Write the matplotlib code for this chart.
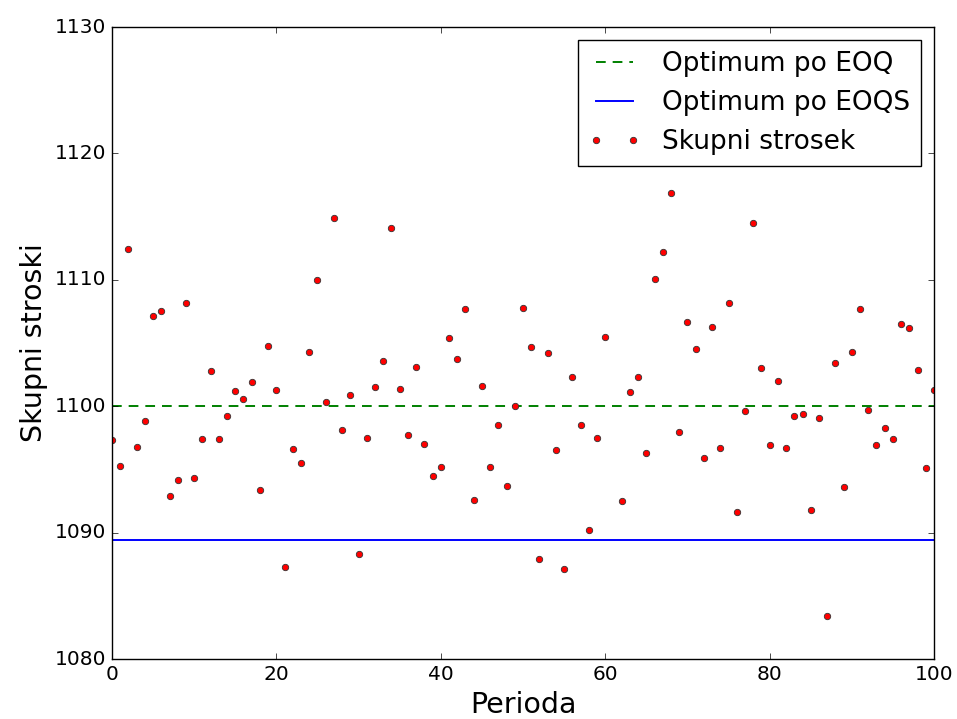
import numpy as np
import matplotlib
matplotlib.use('Agg')
import matplotlib.pyplot as plt

# total cost per period (period 61 has no visible point)
periods = np.arange(0, 101)
total_cost = [
    1097.3, 1095.3, 1112.4, 1096.8, 1098.8, 1107.1, 1107.5, 1092.9, 1094.2, 1108.2,
    1094.3, 1097.4, 1102.8, 1097.4, 1099.2, 1101.2, 1100.6, 1101.9, 1093.4, 1104.8,
    1101.3, 1087.3, 1096.6, 1095.5, 1104.3, 1110.0, 1100.3, 1114.9, 1098.1, 1100.9,
    1088.3, 1097.5, 1101.5, 1103.6, 1114.1, 1101.4, 1097.7, 1103.1, 1097.0, 1094.5,
    1095.2, 1105.4, 1103.7, 1107.7, 1092.6, 1101.6, 1095.2, 1098.5, 1093.7, 1100.0,
    1107.8, 1104.7, 1087.9, 1104.2, 1096.5, 1087.1, 1102.3, 1098.5, 1090.2, 1097.5,
    1105.5, np.nan, 1092.5, 1101.1, 1102.3, 1096.3, 1110.1, 1112.2, 1116.9, 1098.0,
    1106.7, 1104.5, 1095.9, 1106.3, 1096.7, 1108.2, 1091.6, 1099.6, 1114.5, 1103.0,
    1096.9, 1102.0, 1096.7, 1099.2, 1099.4, 1091.8, 1099.1, 1083.4, 1103.4, 1093.6,
    1104.3, 1107.7, 1099.7, 1096.9, 1098.3, 1097.4, 1106.5, 1106.2, 1102.9, 1095.1,
    1101.3,
]
optimum_eoq = 1100.0
optimum_eoqs = 1089.4

plt.style.use('classic')
fig = plt.figure(figsize=(9.57, 7.19), dpi=100, facecolor='white')
ax = fig.add_axes([0.117, 0.0834, 0.859, 0.879])

ax.plot([0, 100], [optimum_eoq, optimum_eoq], color='g', linestyle='--',
        linewidth=1.4, dashes=(7, 5), label='Optimum po EOQ')
ax.plot([0, 100], [optimum_eoqs, optimum_eoqs], color='b', linestyle='-',
        linewidth=1.4, label='Optimum po EOQS')
ax.plot(periods, total_cost, 'ro', markersize=4.6, markeredgewidth=0.6,
        markeredgecolor='#333333', label='Skupni strosek')

ax.set_xlim(0, 100)
ax.set_ylim(1080, 1130)
ax.set_xticks([0, 20, 40, 60, 80, 100])
ax.set_yticks([1080, 1090, 1100, 1110, 1120, 1130])
ax.tick_params(labelsize=14.5)
ax.set_xlabel('Perioda', fontsize=20.5)
ax.set_ylabel('Skupni stroski', fontsize=20.5)
ax.legend(loc='upper right', fontsize=19, numpoints=2)

fig.savefig('out.png', dpi=100, facecolor='white')
